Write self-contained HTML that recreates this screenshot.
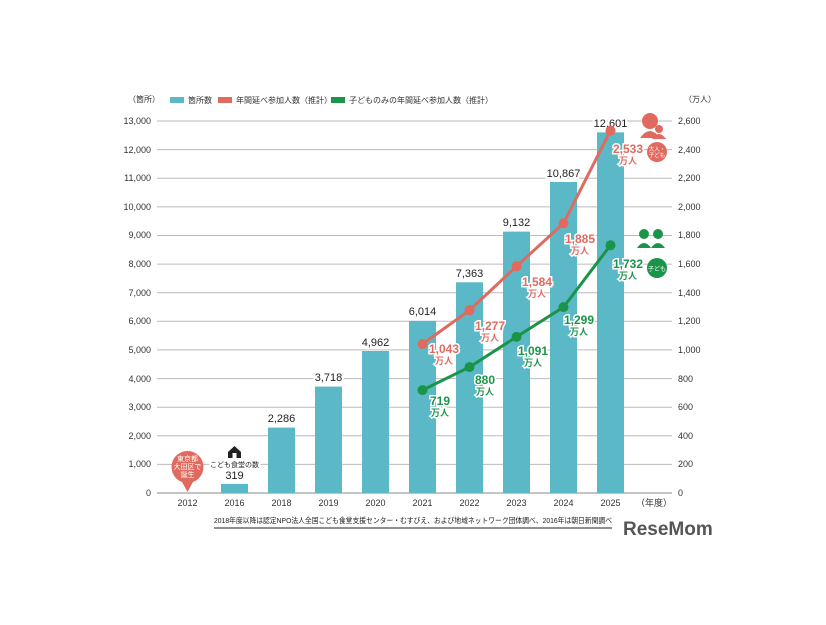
<!DOCTYPE html>
<html><head><meta charset="utf-8"><style>
body{margin:0;background:#fff;width:826px;height:620px;overflow:hidden}
text{font-family:"Liberation Sans","Noto Sans CJK JP",sans-serif}
</style></head><body>
<svg width="826" height="620" viewBox="0 0 826 620">
<g font-size="8" fill="#333">
<text x="128" y="102">（箇所）</text>
<rect x="170" y="97" width="14" height="6" fill="#5bb8c6"/><text x="188" y="103">箇所数</text>
<rect x="218" y="97" width="14" height="6" fill="#e06a5f"/><text x="236" y="103">年間延べ参加人数（推計）</text>
<rect x="331" y="97" width="14" height="6" fill="#1a9448"/><text x="349" y="103">子どものみの年間延べ参加人数（推計）</text>
<text x="684" y="102">（万人）</text>
</g>
<g stroke="#bbb" stroke-width="1">
<line x1="157" x2="672" y1="121" y2="121"/><line x1="157" x2="672" y1="149.6" y2="149.6"/><line x1="157" x2="672" y1="178.2" y2="178.2"/><line x1="157" x2="672" y1="206.9" y2="206.9"/><line x1="157" x2="672" y1="235.5" y2="235.5"/><line x1="157" x2="672" y1="264.1" y2="264.1"/><line x1="157" x2="672" y1="292.7" y2="292.7"/><line x1="157" x2="672" y1="321.3" y2="321.3"/><line x1="157" x2="672" y1="349.9" y2="349.9"/><line x1="157" x2="672" y1="378.6" y2="378.6"/><line x1="157" x2="672" y1="407.2" y2="407.2"/><line x1="157" x2="672" y1="435.8" y2="435.8"/><line x1="157" x2="672" y1="464.4" y2="464.4"/><line x1="157" x2="672" y1="493" y2="493" stroke="#888"/>
</g>
<g font-size="9" fill="#333" text-anchor="end">
<text x="151" y="124">13,000</text><text x="151" y="153">12,000</text><text x="151" y="181">11,000</text><text x="151" y="210">10,000</text><text x="151" y="238">9,000</text><text x="151" y="267">8,000</text><text x="151" y="296">7,000</text><text x="151" y="324">6,000</text><text x="151" y="353">5,000</text><text x="151" y="382">4,000</text><text x="151" y="410">3,000</text><text x="151" y="439">2,000</text><text x="151" y="467">1,000</text><text x="151" y="496">0</text>
</g>
<g font-size="9" fill="#333">
<text x="678" y="124">2,600</text><text x="678" y="153">2,400</text><text x="678" y="181">2,200</text><text x="678" y="210">2,000</text><text x="678" y="238">1,800</text><text x="678" y="267">1,600</text><text x="678" y="296">1,400</text><text x="678" y="324">1,200</text><text x="678" y="353">1,000</text><text x="678" y="382">800</text><text x="678" y="410">600</text><text x="678" y="439">400</text><text x="678" y="467">200</text><text x="678" y="496">0</text>
</g>
<g fill="#5bb8c6">
<rect x="221" y="483.9" width="27" height="9.1"/>
<rect x="268" y="427.6" width="27" height="65.4"/>
<rect x="315" y="386.6" width="27" height="106.4"/>
<rect x="362" y="351" width="27" height="142"/>
<rect x="409" y="320.9" width="27" height="172.1"/>
<rect x="456" y="282.3" width="27" height="210.7"/>
<rect x="503" y="231.6" width="27" height="261.4"/>
<rect x="550" y="182" width="27" height="311"/>
<rect x="597" y="132.4" width="27" height="360.6"/>
</g>
<g font-size="11" fill="#222" text-anchor="middle" stroke="#fff" stroke-width="4" paint-order="stroke">
<text x="234.5" y="479">319</text><text x="281.5" y="422">2,286</text><text x="328.5" y="381">3,718</text><text x="375.5" y="346">4,962</text><text x="422.5" y="315">6,014</text><text x="469.5" y="277">7,363</text><text x="516.5" y="226">9,132</text><text x="563.5" y="177">10,867</text><text x="610.5" y="127">12,601</text>
</g>
<text x="234.5" y="467" font-size="7" fill="#222" text-anchor="middle" stroke="#fff" stroke-width="4" paint-order="stroke">こども食堂の数</text>
<path d="M228 452 l6.5 -6 l6.5 6 v6 h-13z" fill="#222"/><rect x="232.5" y="453" width="4" height="5" fill="#fff"/>
<circle cx="187.5" cy="467" r="16" fill="#e06a5f"/><path d="M181 480 l6.5 12 l6.5 -12z" fill="#e06a5f"/>
<g font-size="7" fill="#fff" text-anchor="middle"><text x="187.5" y="461">東京都</text><text x="187.5" y="469">大田区で</text><text x="187.5" y="477">誕生</text></g>
<polyline points="422.5,344 469.5,310.3 516.5,266.3 563.5,223.3 610.5,130.6" fill="none" stroke="#e06a5f" stroke-width="3"/>
<g fill="#e06a5f"><circle cx="422.5" cy="344" r="5"/><circle cx="469.5" cy="310.3" r="5"/><circle cx="516.5" cy="266.3" r="5"/><circle cx="563.5" cy="223.3" r="5"/><circle cx="610.5" cy="130.6" r="5"/></g>
<polyline points="422.5,390.1 469.5,367.1 516.5,336.9 563.5,307.1 610.5,245.2" fill="none" stroke="#1a9448" stroke-width="3"/>
<g fill="#1a9448"><circle cx="422.5" cy="390.1" r="5"/><circle cx="469.5" cy="367.1" r="5"/><circle cx="516.5" cy="336.9" r="5"/><circle cx="563.5" cy="307.1" r="5"/><circle cx="610.5" cy="245.2" r="5"/></g>
<g font-weight="bold" text-anchor="middle" stroke="#fff" stroke-width="3" paint-order="stroke">
<g fill="#e06a5f"><text x="444" y="353" font-size="12">1,043</text><text x="444" y="364" font-size="9">万人</text>
<text x="490" y="330" font-size="12">1,277</text><text x="490" y="341" font-size="9">万人</text>
<text x="537" y="286" font-size="12">1,584</text><text x="537" y="297" font-size="9">万人</text>
<text x="580" y="243" font-size="12">1,885</text><text x="580" y="254" font-size="9">万人</text>
<text x="628" y="153" font-size="12">2,533</text><text x="628" y="164" font-size="9">万人</text></g>
<g fill="#1a9448"><text x="440" y="405" font-size="12">719</text><text x="440" y="416" font-size="9">万人</text>
<text x="485" y="384" font-size="12">880</text><text x="485" y="395" font-size="9">万人</text>
<text x="533" y="355" font-size="12">1,091</text><text x="533" y="366" font-size="9">万人</text>
<text x="579" y="324" font-size="12">1,299</text><text x="579" y="335" font-size="9">万人</text>
<text x="628" y="268" font-size="12">1,732</text><text x="628" y="279" font-size="9">万人</text></g>
</g>
<circle cx="650" cy="121" r="8" fill="#e06a5f"/><path d="M640 138 q10 -14 20 0z" fill="#e06a5f"/>
<circle cx="659" cy="129" r="4" fill="#e06a5f"/><path d="M652 139 q7 -10 14 0z" fill="#e06a5f"/>
<circle cx="657" cy="152" r="10" fill="#e06a5f"/><text x="657" y="151" font-size="5.5" fill="#fff" text-anchor="middle">大人・</text><text x="657" y="157" font-size="5.5" fill="#fff" text-anchor="middle">子ども</text>
<circle cx="644" cy="234" r="5" fill="#1a9448"/><path d="M637 248 q7 -10 14 0z" fill="#1a9448"/>
<circle cx="658" cy="234" r="5" fill="#1a9448"/><path d="M651 248 q7 -10 14 0z" fill="#1a9448"/>
<circle cx="657" cy="268" r="10" fill="#1a9448"/><text x="657" y="271" font-size="6" fill="#fff" text-anchor="middle">子ども</text>
<g font-size="9" fill="#333" text-anchor="middle">
<text x="187.5" y="506">2012</text><text x="234.5" y="506">2016</text><text x="281.5" y="506">2018</text><text x="328.5" y="506">2019</text><text x="375.5" y="506">2020</text><text x="422.5" y="506">2021</text><text x="469.5" y="506">2022</text><text x="516.5" y="506">2023</text><text x="563.5" y="506">2024</text><text x="610.5" y="506">2025</text><text x="654" y="506">（年度）</text>
</g>
<text x="214" y="523" font-size="7.5" fill="#222" textLength="398" lengthAdjust="spacingAndGlyphs">2018年度以降は認定NPO法人全国こども食堂支援センター・むすびえ、および地域ネットワーク団体調べ、2016年は朝日新聞調べ</text>
<line x1="214" x2="612" y1="528" y2="528" stroke="#222" stroke-width="1"/>
<text x="623" y="535" font-size="19" font-weight="bold" fill="#555">ReseMom</text>
</svg>
</body></html>
